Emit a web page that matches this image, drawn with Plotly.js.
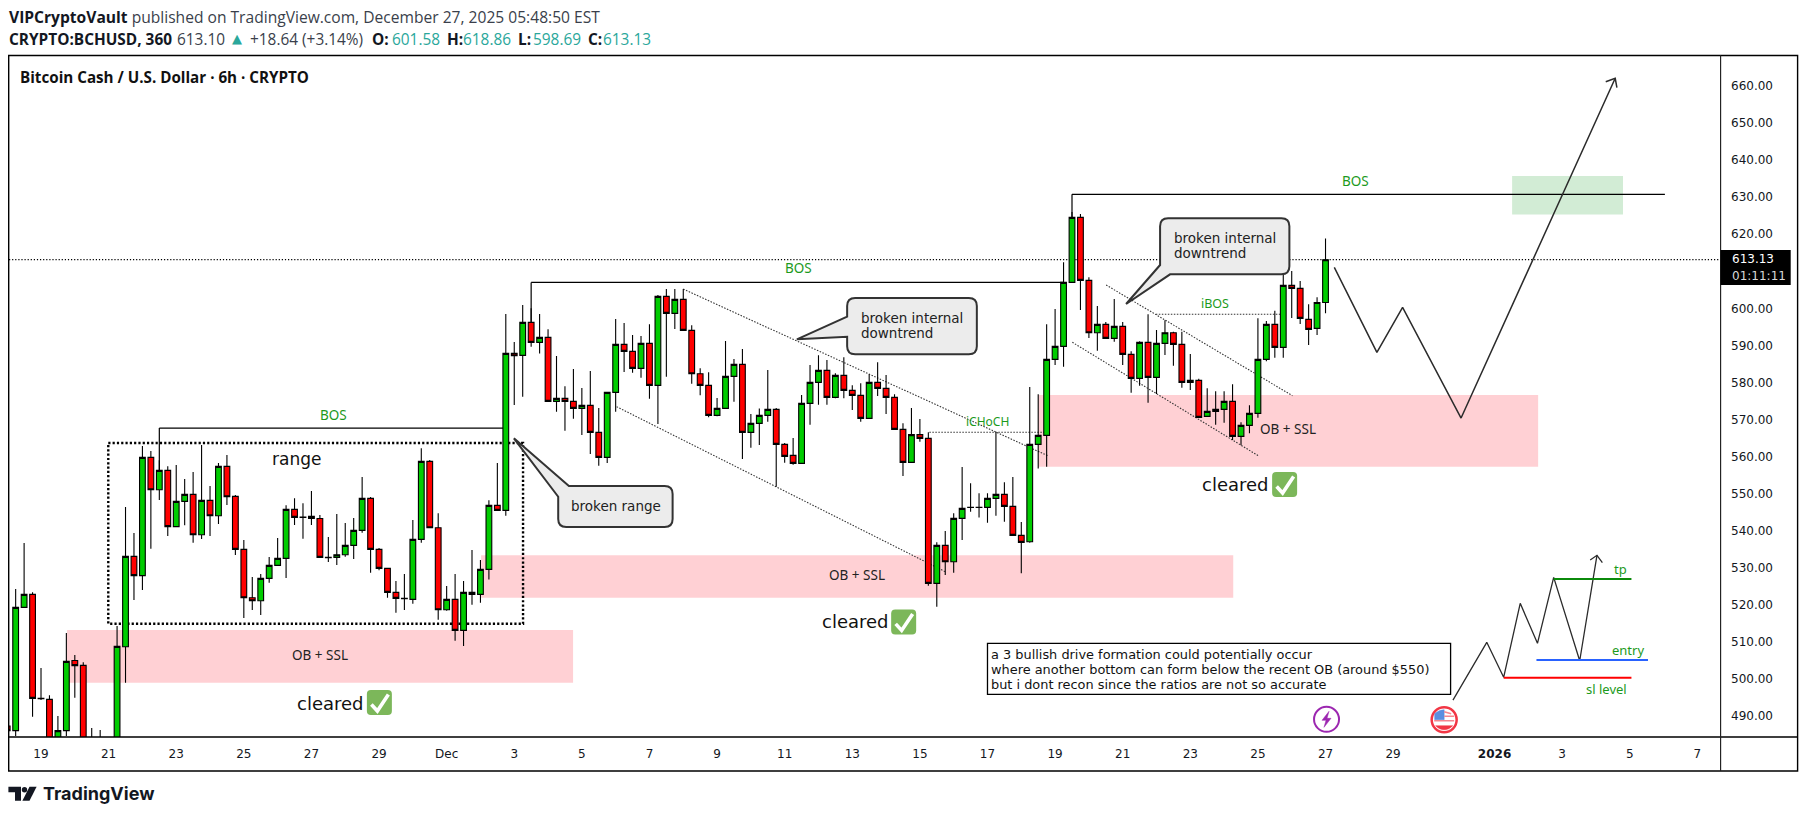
<!DOCTYPE html>
<html><head><meta charset="utf-8">
<script src="https://cdn.plot.ly/plotly-3.0.1.min.js"></script>
<style>html,body{margin:0;padding:0;background:#fff}#c{width:1806px;height:818px}</style>
</head><body><div id="c"></div>
<script>
// ---- candle values, one row per day (00:00, 06:00, 12:00, 18:00), from 2025-11-18 ----
const opens=[
487.3,486.05,519.32,522.83, 494.76,494.5,480,486.05, 505.0,503.67,480,479, 481,482,508.7,533.08,
527.87,559.8,551.07,556.29, 541.1,547.92,549.8,538.93, 548.19,544.05,557.37,549.27, 534.97,521.93,521.12,527.15,
530.65,532.54,545.76,543.7, 543.87,543.3,532.81,532.81, 533.53,536.05,540.1,548.73, 534.97,529.84,523.37,521.75,
521.48,537.67,558.72,540.82, 518.69,521.48,513.11,523.37, 522.83,529.57,546.84,545.49, 587.85,587.31,596.22,590.82,
592.17,574.9,575.71,574.9, 573.01,573.82,566.54,559.79, 577.33,590.28,588.39,583.81, 590.55,579.22,603.23,598.65,
602.43,594.06,582.37,579.22, 571.13,573.02,581.65,584.89, 566.54,568.97,571.13,572.75, 563.3,560.33,558.17,574.36,
580.03,583.27,575.98,581.92, 577.87,576.52,570.32,580.03, 578.41,575.98,567.35,558.44, 565.94,564.92,525.8,536.05,
531.64,543.33,546.25,546.3, 546.3,548.73,549.81,546.57, 538.75,537.04,563.3,565.73, 586.24,589.75,607.02,624.55,
607.55,593.43,595.68,591.9, 595.14,587.59,581.11,590.83, 581.38,590.56,593.43,590.29, 580.03,580.57,570.86,572.21,
572.75,574.9,565.46,568.43, 571.67,586.24,595.68,589.48, 606.21,605.4,597.03,594.6, 601.58];
const highs=[
488,524.27,536.68,523.37, 502.95,495.6,490,512.4, 506.46,504.5,486.8,486.2, 483,514.28,546.39,539.38,
562.85,561.5,559,557.37, 557.73,553.95,555.84,563.12, 552.06,558.27,560.42,549.63, 537.49,527.5,528.3,532.9,
538.03,546.84,548.73,547.38, 550.71,544.24,538.3,544.5, 542.1,543.43,554.49,549.1, 535.33,529.9,526.43,528.31,
542.89,562.22,559.07,544.68, 525.08,528.31,526.43,534.79, 532.09,548.19,558.27,598.47, 590.91,600.9,600,598.47,
594.33,587.13,578.95,583.63, 578.5,583.09,573.1,577.33, 597.12,596.04,592.8,592.53, 595.68,603.59,605.21,605.21,
605.21,595.41,583.81,582.73, 575.8,591.18,586.33,589.03, 571.49,573.01,583.36,573.1, 563.66,565.01,576.61,584.71,
587.32,586.06,582.46,586.78, 579.22,579.76,582.19,585.43, 582.01,576.79,568.97,573.1, 570.14,566.54,536.86,539.92,
544.68,557.18,552.78,550.08, 550.08,566.54,553.05,554.49, 542.34,578.77,576.79,595.68, 599.82,612.41,626,625.45,
608.37,600.63,596.31,602.52, 596.31,588.4,591.1,598.38, 594.15,596.76,593.7,593.7, 587.68,581.02,578.41,577.6,
577.6,579.49,569.24,573.83, 597.3,596.58,599.37,613.22, 610.07,607.38,601.08,602.97, 618.86];
const lows=[
484,484.6,519.3,489.82, 494.3,478,478,484.6, 494.95,480,476,476, 477,480,499,521.3,
524,535.15,548.3,538.57, 541.1,541.5,536.77,537.76, 538.57,541.8,546.93,533.44, 516.44,518.6,517.25,525.97,
530.6,527.24,541.54,537.85, 541.54,532.8,531.55,530.74, 533,532.36,539.47,528.67, 529.3,521.93,517.88,518.6,
520.3,536.77,540.8,515.99, 518.42,510.33,508.89,520.04, 520.58,526.87,545.4,544.05, 573.91,576.16,589.65,587.85,
574.9,572.11,566.99,570.23, 565.82,560.69,557.54,558.26, 572.11,582.82,582.64,581.29, 575.62,568.78,581.56,594.42,
594.06,579.67,576.52,570.59, 570.86,573,574.81,559.34, 562.4,563.12,569.42,551.88, 558.35,557.81,558.1,568.61,
574,574,575.71,575.71, 572.57,569.42,570.14,576.34, 571.49,567.3,554.76,558.4, 564.02,525.17,519.5,528.04,
528.67,537.49,545.13,543.6, 542.16,544.05,542.43,538.7, 528.49,536.77,556.82,557.27, 584.71,584.26,607,599.55,
591.99,588.58,591.85,591, 584.71,577.25,579.13,574.55, 576.88,587.41,584.53,578.59, 577.96,570.5,570.8,568.61,
569.15,564.47,563.03,566.27, 570.5,585.7,586.69,586.69, 597.39,595.77,590.11,592.8, 598.69];
const closes=[
486.05,519.32,522.83,494.76, 494.67,480,486.05,504.75, 503.6,482,479,481, 482,508.8,533.08,527.87,
559.8,551.07,556.29,541.1, 547.92,549.8,538.93,548.19, 544.05,557.37,549.18,534.97, 521.93,521.12,527.15,530.65,
532.54,545.76,543.6,543.6, 543.3,532.81,532.7,533.53, 536.05,540.1,548.73,534.97, 529.84,523.37,521.75,521.66,
537.67,558.72,540.82,518.69, 521.48,513.11,523.37,522.83, 529.57,546.84,545.49,587.85, 587.22,596.22,590.82,592.17,
574.9,575.71,574.9,573.01, 573.82,566.54,559.79,577.33, 590.28,588.39,583.81,590.55, 579.22,603.23,598.65,602.43,
594.06,582.37,579.22,571.13, 573.02,581.65,584.89,566.54, 568.97,571.13,572.75,563.3, 560.06,558.17,574.36,580.03,
583.27,575.98,581.92,577.87, 576.52,570.32,580.03,578.41, 575.98,567.35,558.44,565.94, 564.92,525.8,536.05,531.64,
543.33,546.03,546.35,546.35, 548.73,549.81,546.57,538.75, 536.86,563.3,565.73,586.24, 589.75,607.02,624.55,607.55,
593.43,595.68,591.9,595.14, 587.59,581.11,590.83,581.38, 590.56,593.43,590.29,580.03, 580.57,570.59,572.21,572.75,
574.9,565.46,568.43,571.67, 586.24,595.68,589.48,606.21, 605.4,597.3,594.33,601.58, 613.13];
const firstCandle=Date.UTC(2025,10,18);
const candleStepMs=6*3600*1000;
const lastPrice=613.13;

// ---- axis ticks ----
const priceTicks=[490,500,510,520,530,540,550,560,570,580,590,600,620,630,640,650,660];
const priceTickText=priceTicks.map(v=>v.toFixed(2));
const dateTicks=['2025-11-19','2025-11-21','2025-11-23','2025-11-25','2025-11-27','2025-11-29','2025-12-01','2025-12-03','2025-12-05','2025-12-07','2025-12-09','2025-12-11','2025-12-13','2025-12-15','2025-12-17','2025-12-19','2025-12-21','2025-12-23','2025-12-25','2025-12-27','2025-12-29','2026-01-01','2026-01-03','2026-01-05','2026-01-07'];
const dateTickText=['19','21','23','25','27','29','Dec','3','5','7','9','11','13','15','17','19','21','23','25','27','29','<b>2026</b>','3','5','7'];

// ---- drawings: x in days after 2025-11-19, y in price ----
const zones=[[0.77,15.74,513.2,499.0],[13.02,35.27,533.4,521.9],[29.5,44.29,576.6,557.27]];
const targetZone=[43.52,46.8,635.7,625.3];
const rangeBox=[1.99,14.26,563.67,514.9];
const solidLines=[[3.5,556.3,3.5,567.7],[3.5,567.7,13.75,567.7],[14.5,596.2,14.5,607.0],[14.5,607.0,30.25,607.0],[30.5,624.5,30.5,630.77],[30.5,630.77,48.04,630.77]];
const dottedLines=[[19.0,605.2,29.8,560.16],[17.03,573.46,26.75,528.94],[26.28,566.55,29.75,566.55],[31.51,606.3,37.02,576.43],[30.51,590.84,36.01,560.24],[32.98,598.39,36.71,598.39]];
const levels=[[44.75,47.05,526.97,'#0b8a0b'],[44.24,47.54,505.1,'#2962ff'],[43.27,47.05,500.33,'#ff0000']];
const pathDays=[38.26,39.52,40.28,42.01,46.57];
const pathPrices=[611.07,588.14,600.28,570.4,662.07];
const pathHeadDays=[46.29,46.57,46.62];
const pathHeadPrices=[661.15,662.07,659.54];
const driveDays=[41.77,42.77,43.27,43.76,44.27,44.75,45.52,46.03];
const drivePrices=[494.3,509.89,500.44,520.4,509.62,527.42,504.92,533.36];
const driveHeadDays=[45.83,46.03,46.19];
const driveHeadPrices=[532.1,533.36,531.36];

// ---- helpers ----
const toDate=d=>new Date(Date.UTC(2025,10,19)+d*864e5).toISOString().slice(0,19);
const times=opens.map((_,i)=>new Date(firstCandle+i*candleStepMs).toISOString().slice(0,19));
const L=9,R=1720,T=56,B=737;
const px=x=>(x-L)/(R-L), py=y=>(B-y)/(B-T);
const FONT='"DejaVu Sans", sans-serif', HEAD='"Open Sans", sans-serif', NOTE='"Noto Sans", sans-serif';
const INK='#131722', GREEN='#1c9a1c';

const shapes=[];
zones.forEach(z=>shapes.push({type:'rect',layer:'below',xref:'x',yref:'y',x0:toDate(z[0]),x1:toDate(z[1]),y0:z[2],y1:z[3],fillcolor:'#ffd0d4',line:{width:0}}));
shapes.push({type:'rect',layer:'below',xref:'x',yref:'y',x0:toDate(targetZone[0]),x1:toDate(targetZone[1]),y0:targetZone[2],y1:targetZone[3],fillcolor:'#d2ecd5',line:{width:0}});
shapes.push({type:'rect',layer:'below',xref:'x',yref:'y',x0:toDate(rangeBox[0]),x1:toDate(rangeBox[1]),y0:rangeBox[2],y1:rangeBox[3],line:{color:'#000',width:2.4,dash:'2.2px,2.1px'}});
shapes.push({type:'line',layer:'below',xref:'paper',yref:'y',x0:0,x1:1,y0:lastPrice,y1:lastPrice,line:{color:'#000',width:1.3,dash:'1.2px,1.9px'}});
solidLines.forEach(l=>shapes.push({type:'line',layer:'below',xref:'x',yref:'y',x0:toDate(l[0]),y0:l[1],x1:toDate(l[2]),y1:l[3],line:{color:'#000',width:1.2}}));
dottedLines.forEach(l=>shapes.push({type:'line',layer:'below',xref:'x',yref:'y',x0:toDate(l[0]),y0:l[1],x1:toDate(l[2]),y1:l[3],line:{color:'#333',width:1.1,dash:'1.5px,1.5px'}}));
levels.forEach(l=>shapes.push({type:'line',xref:'x',yref:'y',x0:toDate(l[0]),x1:toDate(l[1]),y0:l[2],y1:l[2],line:{color:l[3],width:2}}));

// pixel-sized decoration anchored at a chart position (y up)
function deco(day,price,path,fill,color,w){shapes.push({type:'path',xref:'x',yref:'y',xsizemode:'pixel',ysizemode:'pixel',xanchor:toDate(day),yanchor:price,path:path,fillcolor:fill,line:{color:color,width:w}});}
function disc(day,price,r,fill,color,w){shapes.push({type:'circle',xref:'x',yref:'y',xsizemode:'pixel',ysizemode:'pixel',xanchor:toDate(day),yanchor:price,x0:-r,x1:r,y0:-r,y1:r,fillcolor:fill,line:{color:color,width:w}});}
// callouts
deco(13.99,564.93,'M0,0 L55,-47.7 L150.7,-47.7 Q158.7,-47.7 158.7,-55.7 L158.7,-80.7 Q158.7,-88.7 150.7,-88.7 L52.3,-88.7 Q44.3,-88.7 44.3,-80.7 L44.3,-58.4 Z','#ececec','#333333',2);
deco(22.36,591.65,'M0,0 L50.3,22.6 L50.3,33.3 Q50.3,41.3 58.3,41.3 L172,41.3 Q180,41.3 180,33.3 L180,-7 Q180,-15 172,-15 L58.3,-15 Q50.3,-15 50.3,-7 L50.3,2.6 Z','#ececec','#333333',2);
deco(32.1,601.17,'M0,0 L34,39 L34,77.7 Q34,85.7 42,85.7 L155.3,85.7 Q163.3,85.7 163.3,77.7 L163.3,37.7 Q163.3,29.7 155.3,29.7 L44,29.7 Z','#ececec','#333333',2);
// check marks
const sq='M-8.5,12.5 L8.5,12.5 Q12.5,12.5 12.5,8.5 L12.5,-8.5 Q12.5,-12.5 8.5,-12.5 L-8.5,-12.5 Q-12.5,-12.5 -12.5,-8.5 L-12.5,8.5 Q-12.5,12.5 -8.5,12.5 Z';
[[10.01,493.64],[25.52,515.4],[36.79,552.46]].forEach(c=>{
  deco(c[0],c[1],sq,'#7cb75a','rgba(0,0,0,0)',0);
  deco(c[0],c[1],'M-8,-2 L-2,-8.5 L9,8','rgba(0,0,0,0)','#ffffff',3.6);
});
// note box
shapes.push({type:'rect',xref:'x',yref:'y',x0:toDate(28.0),x1:toDate(41.7),y0:509.61,y1:495.86,fillcolor:'#fff',line:{color:'#000',width:1.3}});
// event icons
disc(38.03,489.11,12.5,'#fff','#9c27b0',2);
deco(38.03,489.11,'M2.5,8 L-4.5,-1 L-0.5,-1 L-2.5,-8 L4.5,1 L0.5,1 Z','#9c27b0','#9c27b0',0.5);
disc(41.51,489.0,12.5,'#fff','#f23645',2.5);
deco(41.51,489.0,'M-9.5,0 L-9.5,6 Q-5,10 0,10 L0,0 Z','#5b8fe0','#5b8fe0',0.5);
deco(41.51,489.0,'M0,8 L7,6 M0,3.5 L10,3.5 M-10,-1 L10,-1','rgba(0,0,0,0)','#f5868f',1.6);
deco(41.51,489.0,'M-8.5,-6 L8.5,-6 Q5,-10 0,-10 Q-5,-10 -8.5,-6 Z','#f23645','#f23645',0.5);
// frame
const frame=(x0,y0,x1,y1,w,c)=>shapes.push({type:'rect',xref:'paper',yref:'paper',x0:px(x0),x1:px(x1),y0:py(y0),y1:py(y1),line:{color:c||'#000',width:w}});
frame(8.7,55.5,1797.6,771,1.4);
frame(8.7,737,1797.6,737,1.4);
frame(1720.6,55.5,1720.6,771,1,'#222');
shapes.push({type:'rect',xref:'paper',yref:'paper',x0:px(1720.6),x1:px(1790.7),y0:py(250),y1:py(285),fillcolor:'#000',line:{width:0}});
// logo
const logoFill={type:'path',xref:'paper',yref:'paper',fillcolor:'#131722',line:{width:0}};
const pth=pts=>'M'+pts.map(p=>px(p[0])+','+py(p[1])).join(' L')+' Z';
shapes.push({...logoFill,path:pth([[8.4,786.7],[21,786.7],[21,800.7],[15,800.7],[15,792.2],[8.4,792.2]])});
shapes.push({...logoFill,type:'circle',x0:px(21.8),x1:px(27.2),y0:py(787),y1:py(792.5)});
shapes.push({...logoFill,path:pth([[29.5,786.7],[36.6,786.7],[29.5,800.7],[22.4,800.7]])});

const anns=[];
function t(day,price,text,size,color,anchor,family){anns.push({xref:'x',yref:'y',x:toDate(day),y:price,text:text,showarrow:false,xanchor:anchor||'center',yanchor:'middle',align:anchor||'center',borderpad:0,font:{family:family||FONT,size:size,color:color||INK}});}
function p(x,y,text,size,color,anchor,family){anns.push({xref:'paper',yref:'paper',x:px(x),y:py(y),text:text,showarrow:false,xanchor:anchor||'left',yanchor:'middle',align:anchor||'left',borderpad:0,font:{family:family||FONT,size:size,color:color||INK}});}

[[8.64,571.22],[22.4,610.88],[38.88,634.36]].forEach(b=>t(b[0],b[1],'BOS',13.5,GREEN,'center',NOTE));
t(7.56,559.35,'range',17,'#111');
[[8.25,506.46],[24.14,528.05],[36.89,567.44]].forEach(b=>t(b[0],b[1],'OB + SSL',13.5,'#222','center',NOTE));
[[8.55,493.5],[24.09,515.4],[35.33,552.52]].forEach(b=>t(b[0],b[1],'cleared',18,'#111'));
t(28.01,569.41,'iCHoCH',12,GREEN,'center',NOTE);
t(34.73,601.36,'iBOS',12.5,GREEN,'center',NOTE);
t(46.72,529.66,'tp',13,GREEN,'center',NOTE);
t(46.95,507.8,'entry',13,GREEN,'center',NOTE);
t(46.3,497.37,'sl level',13,GREEN,'center',NOTE);
t(17.0,546.66,'broken range',13.5,'#222');
t(24.23,597.48,'broken internal',13.5,'#222','left');
t(24.23,593.43,'downtrend',13.5,'#222','left');
t(33.5,619.06,'broken internal',13.5,'#222','left');
t(33.5,615.01,'downtrend',13.5,'#222','left');
t(28.08,506.73,'a 3 bullish drive formation could potentially occur',12.9,'#111','left');
t(28.08,502.68,'where another bottom can form below the recent OB (around $550)',12.9,'#111','left');
t(28.08,498.63,'but i dont recon since the ratios are not so accurate',12.9,'#111','left');

const TEAL='#2aa79b', HS=15.4, SOFT='#3a3f4b';
p(8.4,17,`<b>VIPCryptoVault</b> <span style="color:${SOFT}">published on TradingView.com, December 27, 2025 05:48:50 EST</span>`,15.6,INK,'left',HEAD);
p(8.4,39,'<b>CRYPTO:BCHUSD, 360</b>',HS,INK,'left',HEAD);
p(176,39,'613.10',HS,SOFT,'left',HEAD);
p(231,38,'▲',13,TEAL,'left',FONT);
p(249,39,'+18.64 (+3.14%)',HS,SOFT,'left',HEAD);
[[371,'O:'],[446,'H:'],[517.3,'L:'],[586.7,'C:']].forEach(a=>p(a[0],39,'<b>'+a[1]+'</b>',HS,INK,'left',HEAD));
[[390.7,'601.58'],[462.3,'618.86'],[531.7,'598.69'],[601.7,'613.13']].forEach(a=>p(a[0],39,a[1],HS,TEAL,'left',HEAD));
p(19,76.7,'<b>Bitcoin Cash / U.S. Dollar · 6h · CRYPTO</b>',15.2,'#111','left',HEAD);
p(1731,259.3,'613.13',12,'#fff');
p(1731,276,'01:11:11',12,'#d8d8d8');
p(42,793,'<b>TradingView</b>',18,INK,'left','Inter, sans-serif');

const traces=[
 {type:'candlestick',x:times,open:opens,high:highs,low:lows,close:closes,whiskerwidth:0,
  increasing:{line:{color:'#000',width:1.1},fillcolor:'#00cc00'},
  decreasing:{line:{color:'#000',width:1.1},fillcolor:'#ff0000'},showlegend:false,hoverinfo:'skip'},
 {type:'scatter',mode:'lines',x:pathDays.map(toDate),y:pathPrices,line:{color:'#2b2b2b',width:1.5},showlegend:false,hoverinfo:'skip'},
 {type:'scatter',mode:'lines',x:pathHeadDays.map(toDate),y:pathHeadPrices,line:{color:'#2b2b2b',width:1.5},showlegend:false,hoverinfo:'skip'},
 {type:'scatter',mode:'lines',x:driveDays.map(toDate),y:drivePrices,line:{color:'#2b2b2b',width:1.3},showlegend:false,hoverinfo:'skip'},
 {type:'scatter',mode:'lines',x:driveHeadDays.map(toDate),y:driveHeadPrices,line:{color:'#2b2b2b',width:1.3},showlegend:false,hoverinfo:'skip'}
];
const layout={
 width:1806,height:818,margin:{l:L,r:1806-R,t:T,b:818-B,pad:0},
 paper_bgcolor:'#fff',plot_bgcolor:'#fff',showlegend:false,hovermode:false,
 boxgap:0.32,boxgroupgap:0,
 xaxis:{type:'date',range:[toDate(-0.947),toDate(49.67)],rangeslider:{visible:false},showgrid:false,zeroline:false,showline:false,
   tickmode:'array',tickvals:dateTicks,ticktext:dateTickText,ticks:'',ticklabelstandoff:8,tickangle:0,tickfont:{family:FONT,size:12,color:INK}},
 yaxis:{side:'right',range:[484.34,668.09],showgrid:false,zeroline:false,showline:false,
   tickmode:'array',tickvals:priceTicks,ticktext:priceTickText,ticks:'',ticklabelstandoff:10,tickfont:{family:FONT,size:12,color:INK}},
 shapes:shapes,annotations:anns
};
Plotly.newPlot('c',traces,layout,{displayModeBar:false,staticPlot:true});
</script></body></html>
